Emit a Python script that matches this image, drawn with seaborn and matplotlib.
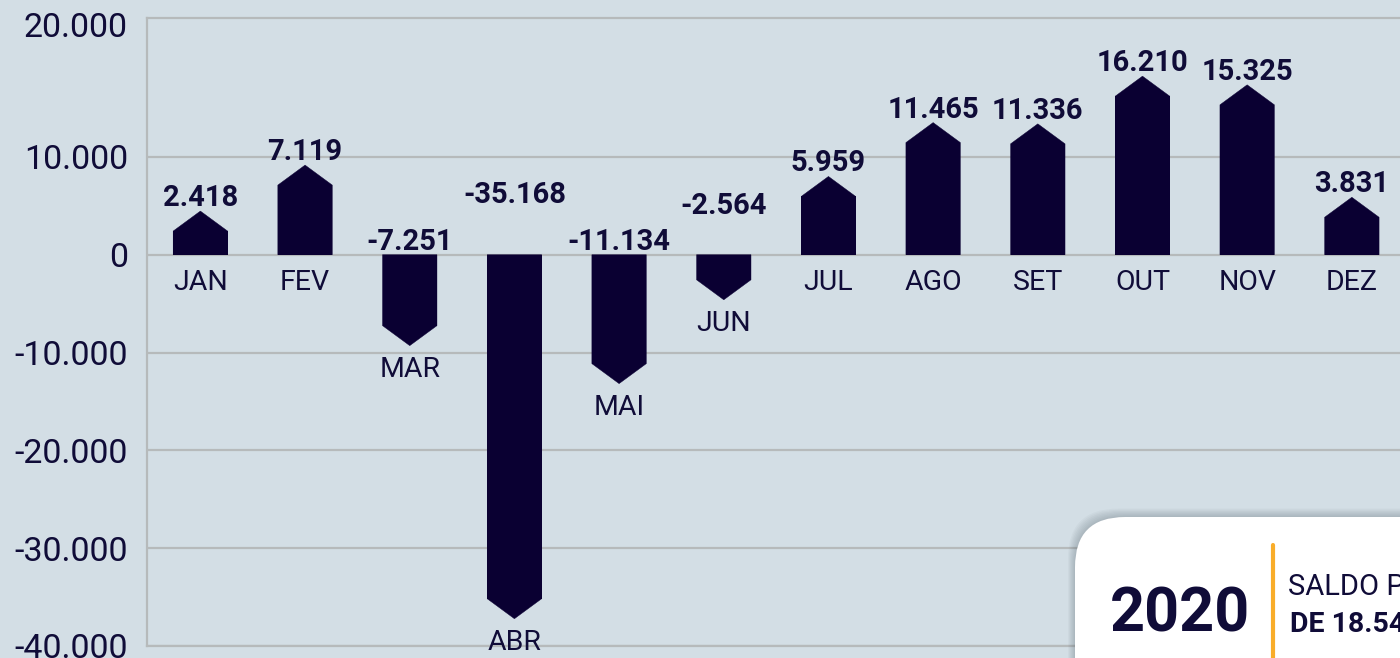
import matplotlib
matplotlib.use("Agg")
import matplotlib.pyplot as plt
import seaborn as sns
import pandas as pd
from matplotlib.patches import Polygon, FancyBboxPatch
from matplotlib.lines import Line2D

# ---------------- data ----------------
months = ["JAN", "FEV", "MAR", "ABR", "MAI", "JUN", "JUL", "AGO", "SET", "OUT", "NOV", "DEZ"]
values = [2418, 7119, -7251, -35168, -11134, -2564, 5959, 11465, 11336, 16210, 15325, 3831]
ytick_values = [-40000, -30000, -20000, -10000, 0, 10000]
ytick_labels = ["-40.000", "-30.000", "-20.000", "-10.000", "0", "10.000"]
top_label = "20.000"
box_year = "2020"
box_line1 = "SALDO POSITIVO"
box_line2 = "DE 18.546 EMPREGOS"

# ---------------- style ----------------
BG = "#d3dee5"
NAVY = "#0a0032"
TXT = "#100c38"
GRID = "#b6babb"
ORANGE = "#f9ad2a"
FONT = ["Roboto", "DejaVu Sans"]
label_lift_px = {"ABR": 47, "JUN": 36}   # extra lift for crowded negative labels

sns.set_theme(style="white")
plt.rcParams["font.family"] = FONT

fig = plt.figure(figsize=(14, 6.58), dpi=100)
fig.patch.set_facecolor(BG)
W, H = 1400, 658
ax = fig.add_axes([147 / W, 1 - 646 / H, 1 - 147 / W, (646 - 18) / H])
ax.set_facecolor(BG)

df = pd.DataFrame({"mes": months, "saldo": values})
sns.barplot(data=df, x="mes", y="saldo", color=NAVY, saturation=1, width=0.52,
            linewidth=0, edgecolor=NAVY, ax=ax, zorder=3)

ax.set_xlim(-0.51, 11.46)
y_top = 24200
ax.set_ylim(-40000, y_top)

# arrow-shaped bars, built over the bars seaborn drew
px_per_unit = (ax.transData.transform((0, 10000))[1] - ax.transData.transform((0, 0))[1]) / 10000
tip_units = 20 / px_per_unit
for p, v in zip(list(ax.patches), values):
    x0, w = p.get_x(), p.get_width()
    s = 1 if v >= 0 else -1
    ax.add_patch(Polygon([(x0, 0), (x0 + w, 0), (x0 + w, v),
                          (x0 + w / 2, v + s * tip_units), (x0, v)],
                         closed=True, facecolor=NAVY, edgecolor=NAVY,
                         linewidth=0.3, zorder=3.5))

# labels
for i, (m, v) in enumerate(zip(months, values)):
    txt = f"{v:,}".replace(",", ".")
    s = 1 if v >= 0 else -1
    tip = v + s * tip_units
    if v >= 0:
        ax.annotate(txt, (i, tip), xytext=(0, 5), textcoords="offset pixels",
                    ha="center", va="baseline", fontsize=21, fontweight="bold",
                    color=TXT, zorder=4)
        ax.annotate(m, (i, 0), xytext=(0, -35), textcoords="offset pixels",
                    ha="center", va="baseline", fontsize=20.5, color=TXT, zorder=4)
    else:
        ax.annotate(txt, (i, 0), xytext=(0, 5 + label_lift_px.get(m, 0)),
                    textcoords="offset pixels", ha="center", va="baseline",
                    fontsize=21, fontweight="bold", color=TXT, zorder=4)
        ax.annotate(m, (i, tip), xytext=(0, -31), textcoords="offset pixels",
                    ha="center", va="baseline", fontsize=20.5, color=TXT, zorder=4)

# axes styling
ax.set_xlabel("")
ax.set_ylabel("")
ax.set_xticks([])
ax.set_yticks(ytick_values + [y_top - 700])
ax.set_yticklabels(ytick_labels + [top_label])
ax.tick_params(axis="y", length=7.2, width=1.5, color=GRID, pad=6.5,
               labelsize=24.5, labelcolor=TXT)
ax.yaxis.grid(True, color=GRID, linewidth=1.6)
ax.set_axisbelow(True)
yt = ax.yaxis.get_major_ticks()
yt[-1].tick1line.set_visible(False)
yt[-1].gridline.set_visible(False)
yt[0].tick1line.set_visible(False)
for side in ["left", "top", "bottom"]:
    ax.spines[side].set_color(GRID)
    ax.spines[side].set_linewidth(1.6)
ax.spines["right"].set_visible(False)

# ---------------- info box (bottom right) ----------------
tr = fig.dpi_scale_trans
bx, by, bw, bh = 10.75, -1.0, 5.0, 2.41
for k in range(8):
    fig.add_artist(FancyBboxPatch((bx - 0.01 * k, by), bw, bh + 0.012 * k,
                                  boxstyle="round,pad=0,rounding_size=0.5",
                                  facecolor="#30404a", edgecolor="none",
                                  alpha=0.035, transform=tr, zorder=5))
fig.add_artist(FancyBboxPatch((bx, by), bw, bh,
                              boxstyle="round,pad=0,rounding_size=0.5",
                              facecolor="white", edgecolor="none",
                              transform=tr, zorder=6))
fig.add_artist(Line2D([12.73, 12.73], [0, 6.58 - 5.45], color=ORANGE, linewidth=3,
                      transform=tr, zorder=7))
fig.text(11.80, 6.58 - 6.31, box_year, transform=tr, ha="center", va="baseline",
         fontsize=44, fontweight="bold", color=TXT, zorder=8)
fig.text(12.88, 6.58 - 5.95, box_line1, transform=tr, ha="left", va="baseline",
         fontsize=21, color=TXT, zorder=8)
fig.text(12.90, 6.58 - 6.32, box_line2, transform=tr, ha="left", va="baseline",
         fontsize=20.5, fontweight="bold", color=TXT, zorder=8)

fig.savefig("out.png", dpi=100, facecolor=BG)
